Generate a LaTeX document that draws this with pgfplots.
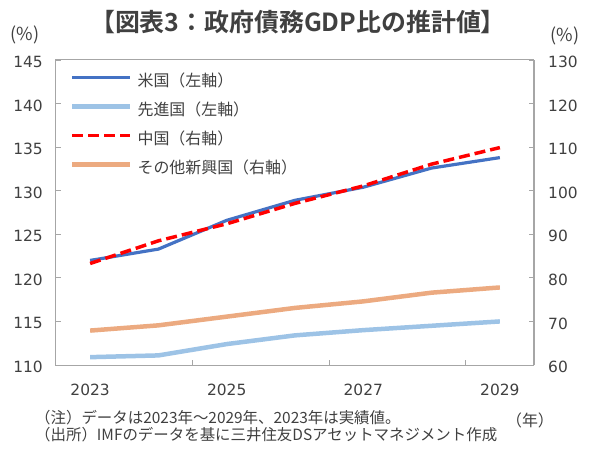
\documentclass[border=0pt]{standalone}
\usepackage{fontspec}
\setmainfont{DejaVu Sans}
\newfontfamily\jp{Noto Sans CJK JP}
\newfontfamily\jpb{Noto Sans CJK JP Bold}
\usepackage{pgfplots}
\pgfplotsset{compat=1.18}
\definecolor{usblue}{HTML}{4472C4}
\definecolor{advblue}{HTML}{9DC3E6}
\definecolor{emorange}{HTML}{ECAA80}
\definecolor{frame}{HTML}{A6A6A6}
\definecolor{txt}{HTML}{404040}
\begin{document}
\begin{tikzpicture}
\pgfplotsset{
  every axis/.append style={
    width=478bp, height=305bp, scale only axis,
    at={(0,0)}, anchor=south west,
    xmin=2022.5, xmax=2029.5,
    /pgf/number format/assume math mode=true,
    tick style={draw=frame, line width=0.8bp},
    major tick length=5bp,
    tick align=inside,
    ticklabel style={font=\fontsize{15.5}{18}\selectfont, text=txt},
  }
}
\begin{axis}[
  axis line style={draw=frame, line width=1bp},
  ymin=110, ymax=145, ytick={110,115,...,145},
  ytick pos=left,
  xtick={2023,2025,2027,2029},
  xticklabels={2023,2025,2027,2029},
  major x tick style={draw=none},
  minor xtick={2024.5,2026.5,2028.5},
  minor tick length=5bp,
  xtick pos=bottom,
  xticklabel style={anchor=base, yshift=-30bp},
  yticklabel style={anchor=east, xshift=-13bp, yshift=-2bp, inner sep=0pt},
  legend cell align=left,
  legend style={at={(0.029,0.951)}, anchor=north west, draw=none, fill=none,
    row sep=15bp, inner sep=0pt,
    nodes={inner sep=0pt, text height=11bp, text depth=3bp, font=\jp\fontsize{16}{18}\selectfont, text=txt},
    /tikz/every odd column/.append style={column sep=5bp}},
  legend image code/.code={\draw[#1] (0bp,4.5bp) -- (58bp,4.5bp);},
]
\addplot[usblue, line width=3.2bp, line join=round] coordinates {
  (2023,122.0) (2024,123.3) (2025,126.6) (2026,128.9) (2027,130.4) (2028,132.6) (2029,133.8)};
\addlegendentry{米国（左軸）}
\addplot[advblue, line width=4.5bp, line join=round] coordinates {
  (2023,110.9) (2024,111.1) (2025,112.4) (2026,113.4) (2027,114.0) (2028,114.5) (2029,115.0)};
\addlegendentry{先進国（左軸）}
\addlegendimage{red, line width=3.5bp, dash pattern=on 11bp off 5bp}
\addlegendentry{中国（右軸）}
\addlegendimage{emorange, line width=4.5bp}
\addlegendentry{その他新興国（右軸）}
\end{axis}
\begin{axis}[
  axis x line=none,
  axis y line*=right,
  axis line style={draw=frame, line width=1bp},
  ymin=60, ymax=130, ytick={60,70,...,130},
  yticklabel style={anchor=west, xshift=14bp, yshift=-2bp, inner sep=0pt},
]
\addplot[emorange, line width=4.5bp, line join=round] coordinates {
  (2023,67.9) (2024,69.1) (2025,71.1) (2026,73.1) (2027,74.6) (2028,76.6) (2029,77.8)};
\addplot[red, line width=3.5bp, dash pattern=on 11bp off 5bp] coordinates {
  (2023,83.3) (2024,88.5) (2025,92.4) (2026,97.1) (2027,101.1) (2028,106.1) (2029,109.9)};
\end{axis}
\draw[frame, line width=1bp] (0,305bp) -- (478bp,305bp);
\node[font=\jpb\fontsize{25}{28}\selectfont, text=txt] at (242bp,343bp) {【図表3：政府債務GDP比の推計値】};
\node[font=\jp\fontsize{18}{20}\selectfont, text=txt] at (-31bp,330bp) {(\%)};
\node[font=\jp\fontsize{18}{20}\selectfont, text=txt] at (509bp,329bp) {(\%)};
\node[font=\jp\fontsize{15.5}{18}\selectfont, text=txt, anchor=west, inner sep=0pt] at (-21bp,-53bp) {（注）データは2023年～2029年、2023年は実績値。};
\node[font=\jp\fontsize{15.5}{18}\selectfont, text=txt, anchor=west, inner sep=0pt] at (-21bp,-70bp) {（出所）IMFのデータを基に三井住友DSアセットマネジメント作成};
\node[font=\jp\fontsize{16}{18}\selectfont, text=txt] at (474bp,-55bp) {（年）};
\pgfresetboundingbox
\useasboundingbox (-56bp,-99bp) rectangle (540bp,365bp);
\end{tikzpicture}
\end{document}
